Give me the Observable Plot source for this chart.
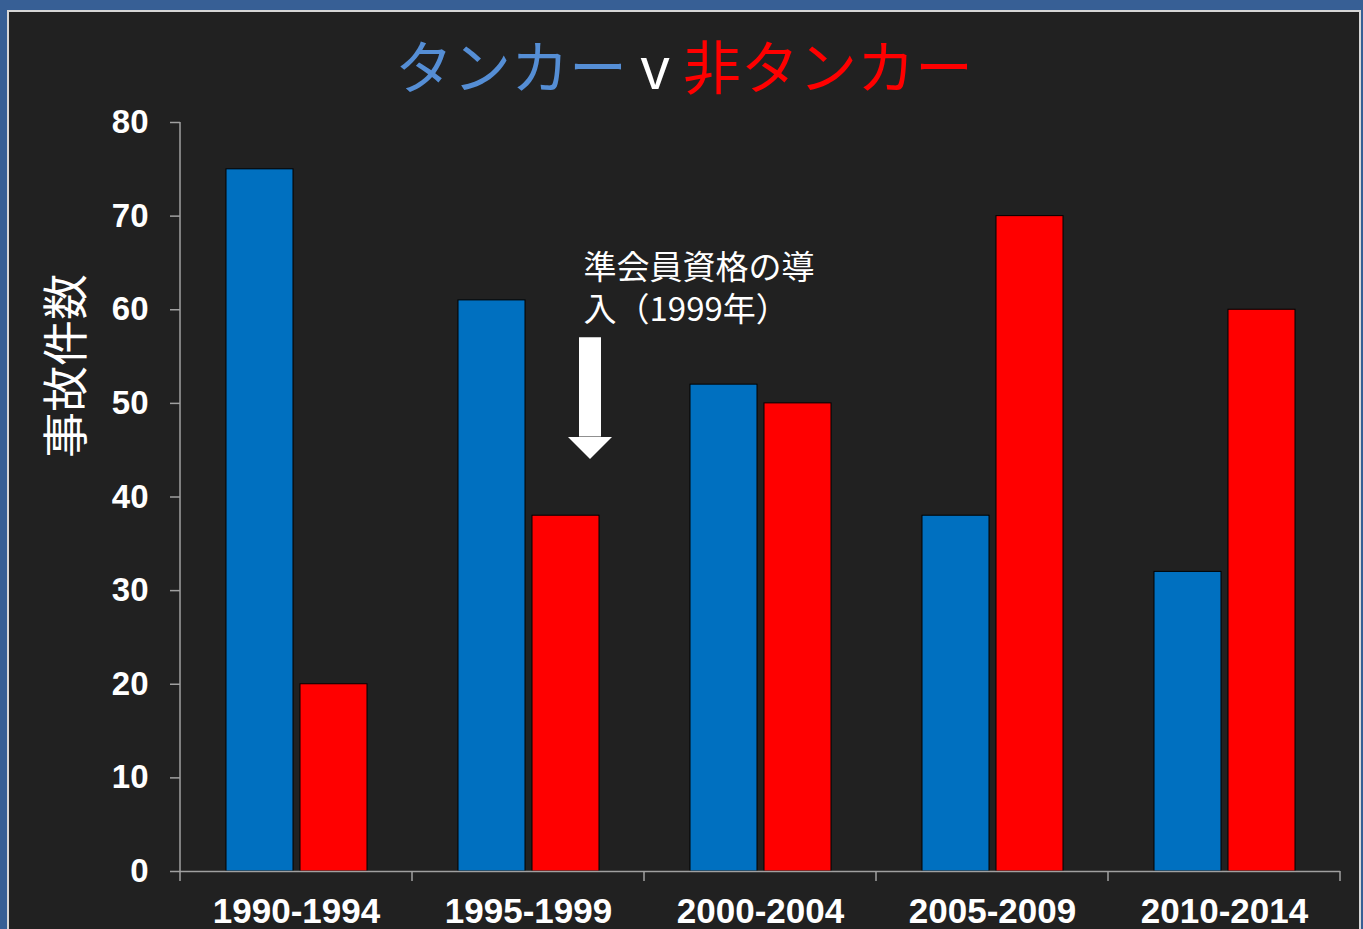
<!DOCTYPE html>
<html>
<head>
<meta charset="utf-8">
<script src="https://cdn.jsdelivr.net/npm/d3@7"></script>
<script src="https://cdn.jsdelivr.net/npm/@observablehq/plot@0.6"></script>
<style>
html, body { margin: 0; padding: 0; width: 1363px; height: 929px; overflow: hidden; background: #375f95; }
#panel { position: absolute; left: 7px; top: 10px; width: 1350px; height: 940px; background: #212121; border: 2px solid #d6d6d6; border-bottom: none; }
#title { position: absolute; left: 9px; width: 1350px; top: 35px; text-align: center; font-family: "Noto Sans CJK JP", sans-serif; font-size: 58px; line-height: 1; white-space: nowrap; }
#ylabel { position: absolute; left: 62px; top: 366px; transform: translate(-50%, -50%) rotate(-90deg); font-family: "Noto Sans CJK JP", sans-serif; font-size: 46px; line-height: 1; color: white; white-space: nowrap; }
#chart { position: absolute; left: 0; top: 0; }
</style>
</head>
<body>
<div id="panel"></div>
<div id="title"><span style="color:#558ed5">タンカー</span><span style="color:#ffffff"> v </span><span style="color:#ff0000">非タンカー</span></div>
<div id="ylabel">事故件数</div>
<div id="chart"></div>
<script>
const periods = ["1990-1994", "1995-1999", "2000-2004", "2005-2009", "2010-2014"];
const seriesNames = ["タンカー", "非タンカー"];
const tanker = [75, 61, 52, 38, 32];
const nonTanker = [20, 38, 50, 70, 60];
const yTicks = [0, 10, 20, 30, 40, 50, 60, 70, 80];
const seriesColors = ["#0070c0", "#ff0000"];
const annotationLines = ["準会員資格の導", "入（1999年）"];
const annotationPeriod = "1995-1999";
const annotationSeries = "非タンカー";
const annotationLineY = [64.4, 59.9];
const arrowTopY = [57.0];
const arrowHeadY = [46.4];

const axisColor = "#a0a0a0";

const data = periods.flatMap((p, i) => [
  {period: p, series: seriesNames[0], value: tanker[i]},
  {period: p, series: seriesNames[1], value: nonTanker[i]}
]);
const noteText = annotationLines.map((t, i) => ({period: annotationPeriod, series: annotationSeries, ty: annotationLineY[i], text: t}));
const arrow = [{period: annotationPeriod, series: annotationSeries, a1: arrowTopY[0], a2: arrowHeadY[0]}];

const arrowHead = {
  draw(context, size) {
    const r = Math.sqrt(size / Math.PI);
    context.moveTo(-r, 0);
    context.lineTo(r, 0);
    context.lineTo(0, r);
    context.closePath();
  }
};

const chart = Plot.plot({
  width: 1363,
  height: 929,
  marginLeft: 180,
  marginRight: 23,
  marginTop: 122,
  marginBottom: 58,
  style: {background: "transparent", color: "white", fontFamily: "'Liberation Sans', Arial, sans-serif", overflow: "visible"},
  fx: {domain: periods, padding: 0, label: null},
  x: {domain: seriesNames, paddingInner: 0.095, paddingOuter: 0.615, axis: null},
  y: {domain: [0, 80], label: null},
  color: {domain: seriesNames, range: seriesColors},
  marks: [
    Plot.barY(data, {fx: "period", x: "series", y: "value", fill: "series", stroke: "black", strokeWidth: 1}),
    Plot.ruleY([0], {stroke: axisColor, strokeWidth: 1.5}),
    Plot.axisY({ticks: yTicks, tickSize: 10, tickPadding: 22, stroke: axisColor, strokeWidth: 1.5, fontSize: 33, fontWeight: "bold", label: null}),
    Plot.axisFx({anchor: "bottom", tickSize: 0, tickPadding: 27, fontSize: 35, fontWeight: "bold", label: null}),
    Plot.text(noteText, {fx: "period", x: "series", y: "ty", text: "text", dx: 17.5, textAnchor: "start", lineAnchor: "middle", fontSize: 33, fontFamily: "'Noto Sans CJK JP', sans-serif", fill: "white"}),
    Plot.ruleX(arrow, {fx: "period", x: "series", y1: "a1", y2: "a2", dx: 24, stroke: "white", strokeWidth: 22}),
    Plot.dot(arrow, {fx: "period", x: "series", y: "a2", dx: 24, symbol: arrowHead, r: 22, fill: "white", stroke: null})
  ]
});

// y-axis line and category boundary ticks, placed with the plot's own scales
const fx = chart.scale("fx");
const ys = chart.scale("y");
const bw = fx.bandwidth != null ? fx.bandwidth : (fx.range[1] - fx.range[0]) / periods.length;
const bounds = periods.map(p => fx.apply(p)).concat([fx.apply(periods[periods.length - 1]) + bw]);
const g = d3.select(chart).append("g").attr("stroke", axisColor).attr("stroke-width", 1.5);
g.selectAll("line.tick").data(bounds).join("line")
  .attr("x1", d => d).attr("x2", d => d)
  .attr("y1", ys.apply(0)).attr("y2", ys.apply(0) + 10);
g.append("line")
  .attr("x1", bounds[0]).attr("x2", bounds[0])
  .attr("y1", ys.apply(80)).attr("y2", ys.apply(0));

document.getElementById("chart").append(chart);
</script>
</body>
</html>
